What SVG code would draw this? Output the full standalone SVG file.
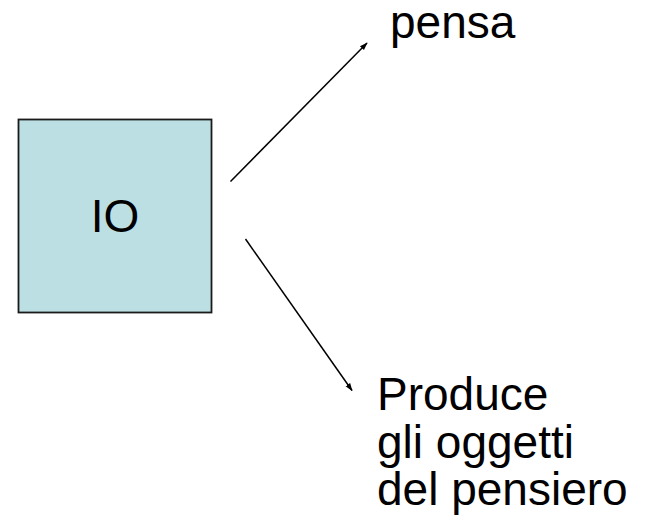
<svg xmlns="http://www.w3.org/2000/svg" width="648" height="526" viewBox="0 0 648 526">
  <style>
    .lbl { font-family: "Liberation Sans", Arial, sans-serif; font-size: 46px; fill: #000000; }
    .conn { stroke: #000000; stroke-width: 1.5; fill: none; marker-end: url(#arrow); }
  </style>
  <defs>
    <marker id="arrow" viewBox="0 0 10 10" refX="9" refY="5" markerWidth="8" markerHeight="8" orient="auto" markerUnits="userSpaceOnUse">
      <path d="M0,1.5 L10,5 L0,8.5 Z" fill="#000000"/>
    </marker>
  </defs>
  <rect width="648" height="526" fill="#ffffff"/>

  <g id="node-io">
    <rect x="18.5" y="119.5" width="193" height="193" fill="#bbdfe2" stroke="#1a1a1a" stroke-width="1.8"/>
    <text class="lbl" x="115" y="232" text-anchor="middle">IO</text>
  </g>

  <g id="node-pensa">
    <text class="lbl" x="390" y="38">pensa</text>
  </g>

  <g id="node-produce">
    <text class="lbl" x="377" y="410">Produce</text>
    <text class="lbl" x="377" y="457.5">gli oggetti</text>
    <text class="lbl" x="377" y="505">del pensiero</text>
  </g>

  <g id="connectors">
    <line class="conn" x1="230.5" y1="181.5" x2="367" y2="43"/>
    <line class="conn" x1="245.5" y1="239" x2="352" y2="390.5"/>
  </g>
</svg>
